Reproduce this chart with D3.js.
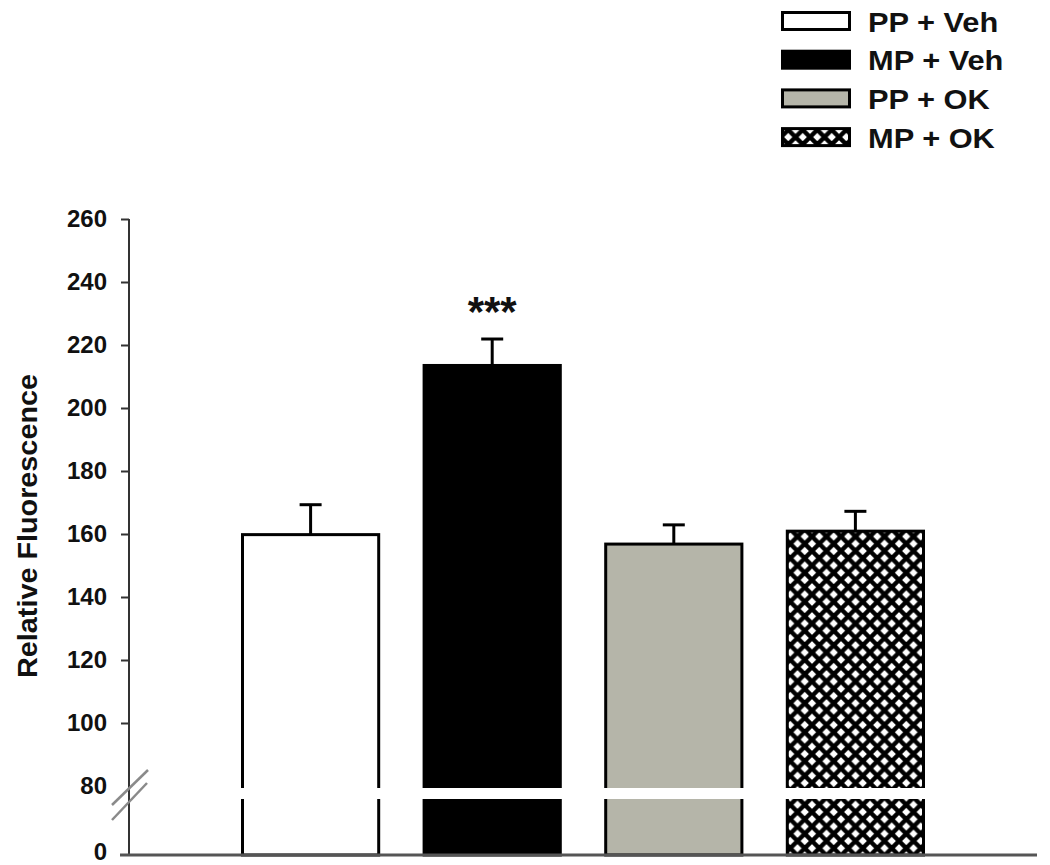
<!DOCTYPE html>
<html>
<head>
<meta charset="utf-8">
<script src="https://cdn.jsdelivr.net/npm/d3@7"></script>
<style>
  body { margin: 0; background: #fff; }
  text { font-family: "Liberation Sans", Arial, sans-serif; font-weight: bold; fill: #111; }
</style>
</head>
<body>
<div id="chartArea"></div>
<script>
// values
var groups = ["PP + Veh", "MP + Veh", "PP + OK", "MP + OK"];
var means = [159.8, 213.5, 156.8, 160.9];
var sems = [9.5, 8.4, 6.1, 6.3];
var upperTicks = [80, 100, 120, 140, 160, 180, 200, 220, 240, 260];
var lowerTicks = [0];
var fills = ["#ffffff", "#000000", "#b5b5a9", "url(#hatch)"];
var stars = ["", "***", "", ""];

var width = 1050, height = 865;
var svg = d3.select("#chartArea").append("svg")
    .attr("width", width)
    .attr("height", height);

// crosshatch for the last group
var pat = svg.append("defs").append("pattern")
    .attr("id", "hatch")
    .attr("patternUnits", "userSpaceOnUse")
    .attr("width", 14.5).attr("height", 14.5);
pat.append("rect").attr("width", 14.5).attr("height", 14.5).attr("fill", "#fff");
pat.append("path")
    .attr("d", "M0,0L14.5,14.5M-7.25,7.25L7.25,21.75M7.25,-7.25L21.75,7.25M14.5,0L0,14.5M21.75,7.25L7.25,21.75M7.25,-7.25L-7.25,7.25")
    .attr("stroke", "#000").attr("stroke-width", 4.4);

// broken y axis: upper part 80..260, lower part 0..80
var yUp = d3.scaleLinear().domain([80, 260]).range([786, 219]);
var yLow = d3.scaleLinear().domain([0, 80]).range([855, 799]);
var x = d3.scalePoint().domain(groups).range([129, 1037]).padding(1);
var barW = x.step() * 0.75;

// bars (full height, gap cut afterwards)
svg.append("g").selectAll("rect").data(groups).enter().append("rect")
    .attr("x", function(d){ return x(d) - barW / 2; })
    .attr("y", function(d, i){ return yUp(means[i]); })
    .attr("width", barW)
    .attr("height", function(d, i){ return yLow(0) - yUp(means[i]); })
    .attr("fill", function(d, i){ return fills[i]; })
    .attr("stroke", "#000")
    .attr("stroke-width", 3);

// white gap through the bars at the axis break
svg.append("g").selectAll("rect").data(groups).enter().append("rect")
    .attr("x", function(d){ return x(d) - barW / 2 - 3; })
    .attr("y", yUp(80) + 2)
    .attr("width", barW + 6)
    .attr("height", yLow(80) - yUp(80) - 2)
    .attr("fill", "#fff");

// error bars (upper only)
var eb = svg.append("g").attr("stroke", "#000").attr("stroke-width", 3);
groups.forEach(function(g, i) {
    var top = yUp(means[i] + sems[i]);
    eb.append("line").attr("x1", x(g)).attr("x2", x(g))
        .attr("y1", yUp(means[i])).attr("y2", top);
    eb.append("line").attr("x1", x(g) - 11).attr("x2", x(g) + 11)
        .attr("y1", top).attr("y2", top);
});

// significance marks
svg.append("g").selectAll("text").data(groups).enter().append("text")
    .attr("x", function(d){ return x(d); })
    .attr("y", function(d, i){ return yUp(means[i] + sems[i]) - 13; })
    .attr("text-anchor", "middle")
    .style("font-size", "42px")
    .text(function(d, i){ return stars[i]; });

// y axis
var axUp = svg.append("g")
    .attr("transform", "translate(129,0)")
    .call(d3.axisLeft(yUp).tickValues(upperTicks).tickSize(8).tickPadding(14));
axUp.select(".domain").remove();
axUp.selectAll(".tick line").attr("stroke", "#333").attr("stroke-width", 2)
    .filter(function(d){ return d === 80; }).remove();
var axLow = svg.append("g")
    .attr("transform", "translate(129,0)")
    .call(d3.axisLeft(yLow).tickValues(lowerTicks).tickSize(8).tickPadding(14));
axLow.select(".domain").remove();
axLow.selectAll(".tick text").attr("dy", "0.2em");
svg.selectAll(".tick text")
    .style("font-size", "24px")
    .style("font-family", "'Liberation Sans', Arial, sans-serif")
    .attr("fill", "#111");

svg.append("line")
    .attr("x1", 129).attr("x2", 129)
    .attr("y1", yUp(260)).attr("y2", yLow(0))
    .attr("stroke", "#333").attr("stroke-width", 2);

// x axis line
svg.append("line")
    .attr("x1", 120).attr("x2", 1037)
    .attr("y1", yLow(0)).attr("y2", yLow(0))
    .attr("stroke", "#555").attr("stroke-width", 3);

// break marks
var brk = svg.append("g").attr("stroke", "#8a8a8a").attr("stroke-width", 2.5);
brk.append("line").attr("x1", 112).attr("y1", 805).attr("x2", 148).attr("y2", 770);
brk.append("line").attr("x1", 112).attr("y1", 820).attr("x2", 147).attr("y2", 783);

// y title
svg.append("text")
    .attr("transform", "translate(37,526) rotate(-90)")
    .attr("text-anchor", "middle")
    .attr("textLength", 304)
    .attr("lengthAdjust", "spacingAndGlyphs")
    .style("font-size", "27px")
    .text("Relative Fluorescence");

// legend
var legend = svg.append("g").selectAll("g").data(groups).enter().append("g")
    .attr("transform", function(d, i){ return "translate(781," + (21 + i * 38.7) + ")"; });
legend.append("rect")
    .attr("x", 1.5).attr("y", -8.5)
    .attr("width", 67).attr("height", 17)
    .attr("fill", function(d, i){ return fills[i]; })
    .attr("stroke", "#000").attr("stroke-width", 3);
legend.append("text")
    .attr("transform", "translate(87,10.5) scale(1.14,1)")
    .style("font-size", "27px")
    .text(function(d){ return d; });
</script>
</body>
</html>
